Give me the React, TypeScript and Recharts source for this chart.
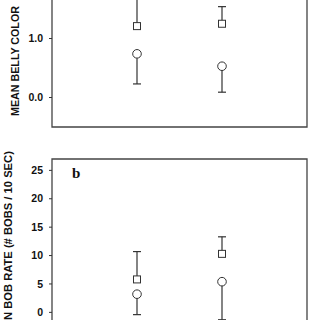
import { ComposedChart, Scatter, ErrorBar, XAxis, YAxis, ReferenceArea } from "recharts"

// группы (две позиции по оси X)
const groups = [1, 2]

// панель a: средний цвет брюшка
const bellySquare = [1.21, 1.25]
const bellySquareUp = [0.6, 0.29]
const bellyCircle = [0.74, 0.53]
const bellyCircleDown = [0.51, 0.44]
const bellyTicks = [0, 1]

// панель b: частота кивков
const bobSquare = [5.8, 10.3]
const bobSquareUp = [4.9, 3.0]
const bobCircle = [3.2, 5.4]
const bobCircleDown = [3.6, 6.7]
const bobTicks = [0, 5, 10, 15, 20, 25]

const ink = "#333"
const tickFont = { fontFamily: "Liberation Sans, Arial, sans-serif", fontWeight: 700, fontSize: 10.5, fill: "#111" }

const up = (vals: number[], errs: number[]) => groups.map((x, i) => ({ x, y: vals[i], err: [0, errs[i]] }))
const down = (vals: number[], errs: number[]) => groups.map((x, i) => ({ x, y: vals[i], err: [errs[i], 0] }))

const Square = (p: any) => (
  <rect x={p.cx - 3.5} y={p.cy - 3.5} width={7} height={7} fill="#fff" stroke={ink} strokeWidth={1} />
)
const Circle = (p: any) => <circle cx={p.cx} cy={p.cy} r={4.3} fill="#fff" stroke={ink} strokeWidth={1} />

function Panel(props: {
  top: number
  height: number
  margin: { top: number; right: number; bottom: number; left: number }
  domain: [number, number]
  ticks: number[]
  fmt: (v: number) => string
  squares: any[]
  circles: any[]
}) {
  const { domain } = props
  return (
    <div style={{ position: "absolute", left: 0, top: props.top }}>
      <ComposedChart width={320} height={props.height} margin={props.margin}>
        <XAxis type="number" dataKey="x" domain={[0, 3]} hide />
        <YAxis
          type="number"
          domain={domain}
          ticks={props.ticks}
          width={52}
          axisLine={false}
          tickLine={{ stroke: ink }}
          tickSize={3}
          tickMargin={6}
          tick={tickFont}
          tickFormatter={props.fmt}
          interval={0}
          allowDataOverflow
        />
        <ReferenceArea x1={0} x2={3} y1={domain[0]} y2={domain[1]} fill="none" stroke="#444" strokeWidth={1.3} />
        <Scatter data={props.squares} dataKey="y" shape={Square} isAnimationActive={false}>
          <ErrorBar dataKey="err" direction="y" width={4} stroke={ink} strokeWidth={1.2} />
        </Scatter>
        <Scatter data={props.circles} dataKey="y" shape={Circle} isAnimationActive={false}>
          <ErrorBar dataKey="err" direction="y" width={4} stroke={ink} strokeWidth={1.2} />
        </Scatter>
      </ComposedChart>
    </div>
  )
}

const title = {
  position: "absolute" as const,
  transform: "translate(-50%, -50%) rotate(-90deg)",
  whiteSpace: "nowrap" as const,
  fontFamily: "Liberation Sans, Arial, sans-serif",
  fontWeight: 700,
  lineHeight: "12px",
  color: "#111",
}

export default function App() {
  return (
    <div style={{ position: "absolute", left: 0, top: 0, width: 320, height: 320, overflow: "hidden", background: "#fff" }}>
      <Panel
        top={-60}
        height={200}
        margin={{ top: 10, right: 13, bottom: 13, left: 0 }}
        domain={[-0.5, 2.5]}
        ticks={bellyTicks}
        fmt={(v) => v.toFixed(1)}
        squares={up(bellySquare, bellySquareUp)}
        circles={down(bellyCircle, bellyCircleDown)}
      />
      <Panel
        top={150}
        height={200}
        margin={{ top: 9, right: 13, bottom: 9.24, left: 0 }}
        domain={[-5, 27]}
        ticks={bobTicks}
        fmt={(v) => String(v)}
        squares={up(bobSquare, bobSquareUp)}
        circles={down(bobCircle, bobCircleDown)}
      />
      <div style={{ ...title, fontSize: 10.7, left: 15, top: 60.5 }}>MEAN BELLY COLOR</div>
      <div style={{ ...title, fontSize: 11.2, left: 8, top: 247.5 }}>MEAN BOB RATE (# BOBS / 10 SEC)</div>
      <div
        style={{
          position: "absolute",
          left: 72,
          top: 166,
          fontFamily: "Liberation Serif, Times New Roman, serif",
          fontWeight: 700,
          fontSize: 15,
          lineHeight: "15px",
          color: "#111",
        }}
      >
        b
      </div>
    </div>
  )
}
